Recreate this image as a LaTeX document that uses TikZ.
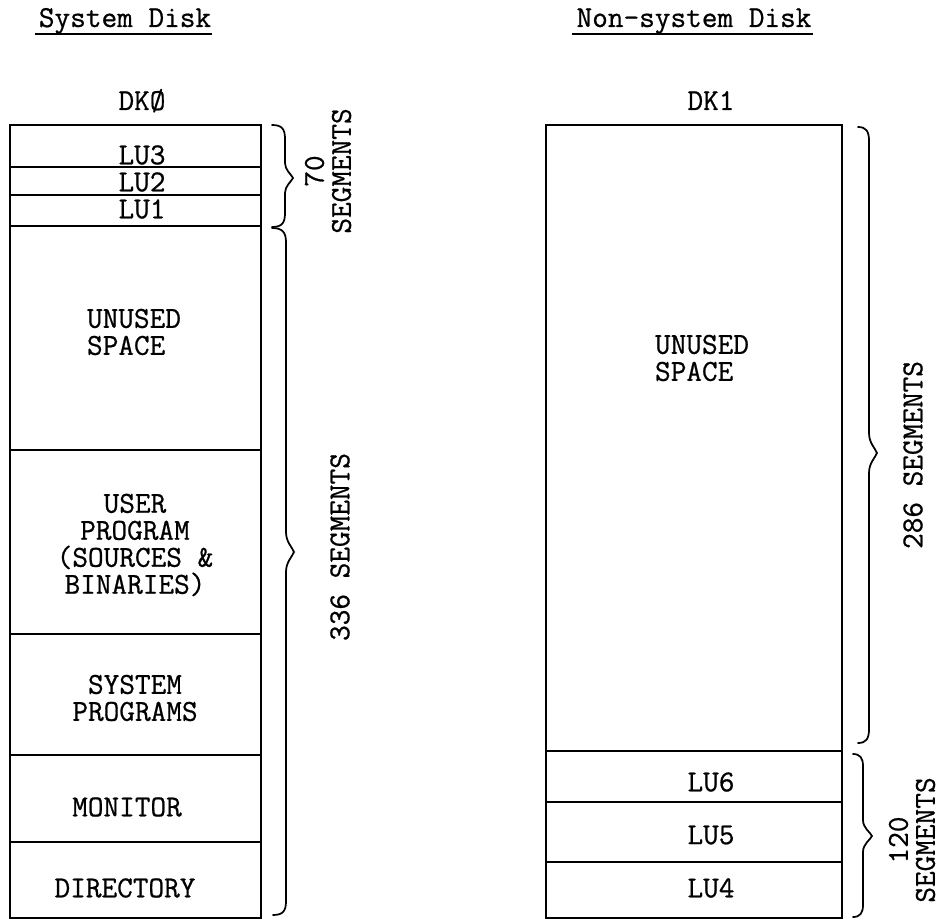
\documentclass[tikz,border=0pt]{standalone}
\usepackage{fontspec}
\newfontfamily\twfont{Latin Modern Mono}[FakeBold=0.7]
\usetikzlibrary{calc}
\begin{document}
\begin{tikzpicture}[x=0.75pt,y=-0.75pt,
  txt/.style={font=\twfont\fontsize{22.8}{20.25}\selectfont, inner sep=0pt, align=center},
  boxline/.style={line width=1.4pt},
  br/.style={line width=1.3pt, line cap=round}]
\useasboundingbox (0,0) rectangle (943,920);

% titles
\node[txt, anchor=base] (t1) at (125,27) {System Disk};
\node[txt, anchor=base] (t2) at (694,27) {Non-system Disk};
\draw[line width=1.1pt] ($(t1.base west)+(-4,7)$) -- ($(t1.base east)+(1,7)$);
\draw[line width=1.1pt] ($(t2.base west)+(-4,7)$) -- ($(t2.base east)+(1,7)$);

\node[txt, anchor=base] (d0) at (142,110) {DKØ};
\node[txt, anchor=base] (d1) at (711,110) {DK1};

% left disk
\draw[boxline] (10,125) rectangle (261,918);
\foreach \yy in {167,195,226,450,634,755,842}
  \draw[boxline] (10,\yy) -- (261,\yy);
\node[txt] (lu3) at (142,155) {LU3};
\node[txt] (lu2) at (142,182) {LU2};
\node[txt] (lu1) at (142,209) {LU1};
\node[txt, align=left] (un0) at (134,332) {UNUSED\\SPACE};
\node[txt] (usr) at (135,545) {USER\\PROGRAM\\(SOURCES \&\\BINARIES)};
\node[txt] (sys) at (135,698) {SYSTEM\\PROGRAMS};
\node[txt] (mon) at (127,807) {MONITOR};
\node[txt] (dir) at (125,888) {DIRECTORY};

% right disk
\draw[boxline] (546,125) rectangle (842,918);
\foreach \yy in {751,802,862}
  \draw[boxline] (546,\yy) -- (842,\yy);
\node[txt, align=left] (un1) at (702,358) {UNUSED\\SPACE};
\node[txt] (lu6) at (711,782) {LU6};
\node[txt] (lu5) at (711,835) {LU5};
\node[txt] (lu4) at (711,888) {LU4};

% braces
\draw[br] (272,125) .. controls (282,125) and (285,129) .. (285,139)
  -- (285,163) .. controls (285,170) and (291,174) .. (293,178)
  .. controls (291,182) and (285,186) .. (285,193)
  -- (285,213) .. controls (285,223) and (282,227) .. (272,227);
\draw[br] (272,228) .. controls (282,228) and (286,232) .. (286,242)
  -- (286,532) .. controls (286,542) and (292,547) .. (294,552)
  .. controls (292,557) and (286,562) .. (286,572)
  -- (286,901) .. controls (286,911) and (283,915) .. (273,915);
\draw[br] (858,127) .. controls (866,127) and (869,131) .. (869,141)
  -- (869,433) .. controls (869,443) and (875,448) .. (877,453)
  .. controls (875,458) and (869,463) .. (869,473)
  -- (869,729) .. controls (869,739) and (866,743) .. (858,743);
\draw[br] (853,754) .. controls (860,754) and (863,758) .. (863,766)
  -- (863,820) .. controls (863,828) and (870,832) .. (872,836)
  .. controls (870,840) and (863,844) .. (863,852)
  -- (863,905) .. controls (863,913) and (860,917) .. (853,917);

\node[txt, rotate=90] (s70) at (328,171) {70\\SEGMENTS};
\node[txt, rotate=90] (s336) at (340,547) {336 SEGMENTS};
\node[txt, rotate=90] (s286) at (913,455) {286 SEGMENTS};
\node[txt, rotate=90] (s120) at (912,840) {120\\SEGMENTS};
\end{tikzpicture}
\end{document}
